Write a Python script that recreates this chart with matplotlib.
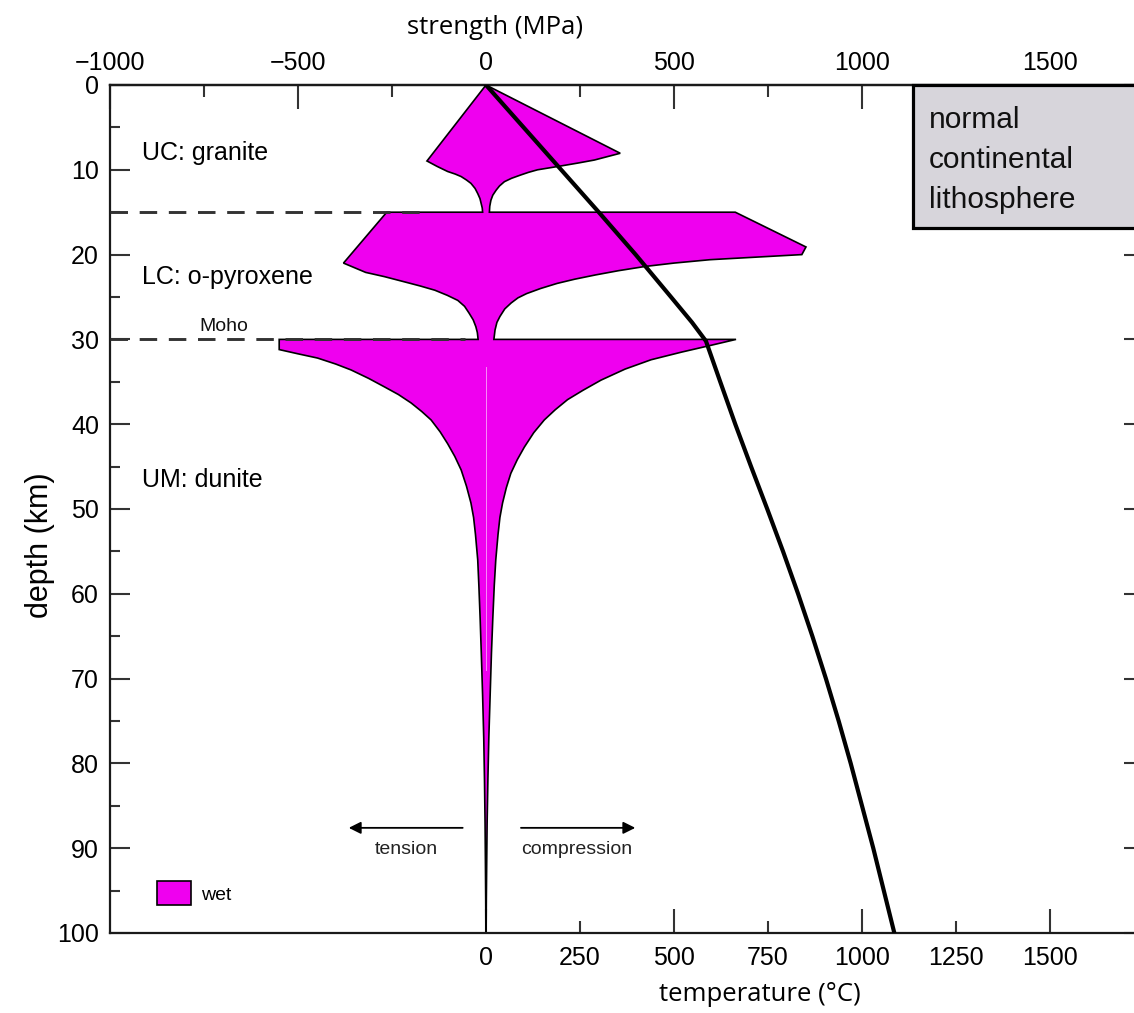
import numpy as np
import matplotlib.pyplot as plt
from matplotlib.patches import Rectangle

plt.rcParams['font.family'] = ['Liberation Sans', 'DejaVu Sans']

# strength envelope, compression side (depth km, MPa), read top to bottom
comp_depth = [0, 8.05, 8.85, 9.2, 9.55, 10.0, 10.3, 10.6, 11.0, 11.4, 11.9,
              12.4, 13.0, 13.6, 14.3, 15.0,
              15.0, 19.1, 20.0, 20.6, 21.0, 21.4, 21.9, 22.4, 22.9, 23.4, 24.0,
              24.6, 25.1, 25.7, 26.4, 27.3, 28.0, 28.9, 30.0,
              30.0, 30.7, 31.5, 32.4, 33.5, 34.8, 36.0, 37.1, 38.3, 39.5, 41.0,
              42.7, 44.2, 45.8, 47.5, 49.3, 51.0, 53.0, 56.0, 59.0, 63.0, 67.0,
              72.0, 77.0, 82.0, 87.0, 92.0, 96.0, 100.0]
comp_mpa = [0, 357, 288, 245, 199, 137, 113, 93, 68, 49, 36,
            27, 18, 13, 10, 9,
            663, 851, 840, 596, 500, 423, 352, 291, 236, 189, 145,
            108, 85, 67, 50, 37, 29, 24, 21,
            665, 598, 520, 439, 370, 306, 258, 217, 184, 155, 127,
            102, 83, 66, 54, 44, 37, 32, 26, 22, 18, 14.5,
            11, 7.5, 5, 3, 1.8, 0.9, 0.3]

# tension side
tens_depth = [0, 8.96, 9.6, 10.2, 10.5, 10.8, 11.2, 11.6, 12.2, 12.8, 13.4,
              13.95, 14.5, 15.0,
              15.0, 21.0, 22.1, 22.6, 23.2, 23.7, 24.2, 24.8, 25.4, 26.1, 26.9,
              27.7, 28.5, 29.2, 30.0,
              30.0, 31.2, 31.7, 32.2, 32.9, 33.6, 34.6, 35.6, 36.5, 37.5, 38.5,
              39.5, 40.9, 42.3, 43.8, 45.4, 47.3, 49.3, 51.0, 53.0, 56.0, 59.0,
              63.0, 67.0, 72.0, 77.0, 82.0, 87.0, 92.0, 96.0, 100.0]
tens_mpa = [0, -157, -130, -102, -82, -66, -52, -40, -29, -22, -16,
            -13, -10, -9,
            -264, -379, -320, -270, -218, -175, -136, -103, -75, -57, -45,
            -34, -27, -23, -21,
            -550, -550, -500, -448, -400, -359, -312, -270, -233, -199, -171,
            -146, -122, -102, -83, -66, -52, -40, -33, -28, -22, -19,
            -15.5, -12.5, -9, -6, -4, -2.5, -1.5, -0.8, -0.3]

# geotherm
geo_depth = [0, 5, 10, 15, 20, 25, 28, 30.2, 35, 40, 45, 50, 55, 60, 65,
             70, 75, 80, 85, 90, 95, 100]
geo_temp = [0, 100, 200, 300, 398, 492, 548, 585, 623, 663, 705, 748, 790,
            830, 868, 904, 938, 970, 1000, 1030, 1058, 1086]

# layer boundaries (depth, end of dashes in MPa)
boundary_depth = [15, 30]
boundary_end = [-157, -55]

strength_ticks = [-1000, -500, 0, 500, 1000, 1500]
strength_labels = ['\u22121000', '\u2212500', '0', '500', '1000', '1500']
strength_minor = [-750, -250, 250, 750, 1250]
temp_ticks = [0, 500, 1000, 1500]
temp_minor = [250, 750, 1250]
depth_ticks = list(range(0, 101, 10))
depth_minor = list(range(5, 100, 10))

magenta = '#EF00EF'
tick_col = '#333333'

fig = plt.figure(figsize=(11.34, 10.13), dpi=100)
ax = fig.add_axes([110 / 1134, 1 - 933 / 1013, 1034 / 1134, 848 / 1013])

xs = comp_mpa + tens_mpa[::-1]
ys = comp_depth + tens_depth[::-1]
env = ax.fill(xs, ys, facecolor=magenta, edgecolor='black', lw=1.2,
              zorder=2, label='wet')

# faint seam in the mantle part
ax.plot([0, 0], [33.2, 69], color='white', lw=0.7, alpha=0.55, zorder=2.1)

ax.plot(geo_temp, geo_depth, color='black', lw=3, zorder=3,
        solid_joinstyle='round', solid_capstyle='round')

for d, e in zip(boundary_depth, boundary_end):
    ax.plot([-1000, e], [d, d], color='#333333', lw=2.1, dashes=(6, 4),
            zorder=4)

ax.set_xlim(-1000, 1750)
ax.set_ylim(100, 0)

# info box top right
ax.add_patch(Rectangle((1135, 0), 800, 16.9, facecolor='#D7D5DB',
                       edgecolor='black', lw=2.3, zorder=5, clip_on=False))
ax.text(1178, 2.45, 'normal\ncontinental\nlithosphere', fontsize=21.5,
        va='top', ha='left', linespacing=1.56, zorder=6, color='#111111')

ax.text(-915, 8.0, 'UC: granite', fontsize=18, va='center', ha='left')
ax.text(-915, 22.6, 'LC: o-pyroxene', fontsize=18, va='center', ha='left')
ax.text(-915, 46.6, 'UM: dunite', fontsize=18, va='center', ha='left')
ax.text(-762, 29.5, 'Moho', fontsize=14, va='bottom', ha='left',
        color='#111111')

ax.annotate('', xy=(-365, 87.6), xytext=(-62, 87.6),
            arrowprops=dict(arrowstyle='-|>', color='black', lw=1.3,
                            mutation_scale=18, shrinkA=0, shrinkB=0))
ax.annotate('', xy=(397, 87.6), xytext=(93, 87.6),
            arrowprops=dict(arrowstyle='-|>', color='black', lw=1.3,
                            mutation_scale=18, shrinkA=0, shrinkB=0))
ax.text(-213, 90.1, 'tension', fontsize=14, ha='center', va='center',
        color='#222222')
ax.text(242, 90.1, 'compression', fontsize=14, ha='center', va='center',
        color='#222222')

ax.legend(handles=env, loc='lower left', bbox_to_anchor=(0.045, 0.033),
          frameon=False, fontsize=14, handlelength=1.75, handleheight=1.5,
          handletextpad=0.55, borderpad=0, borderaxespad=0)

for s in ax.spines.values():
    s.set_linewidth(1.6)
    s.set_color('#1a1a1a')

# depth axis
ax.set_yticks(depth_ticks)
ax.set_yticks(depth_minor, minor=True)
ax.tick_params(axis='y', which='both', direction='in', left=True, right=True,
               labelsize=18, pad=8, color=tick_col, width=1.5)
ax.tick_params(axis='y', which='major', length=14.5)
ax.tick_params(axis='y', which='minor', length=7.2)

# temperature axis (bottom)
ax.set_xticks(temp_ticks, labels=[str(t) for t in temp_ticks])
ax.set_xticks(temp_minor, labels=[str(t) for t in temp_minor], minor=True)
ax.tick_params(axis='x', which='both', direction='in', top=False,
               labelsize=18, pad=9, color=tick_col, width=1.5)
ax.tick_params(axis='x', which='major', length=17)
ax.tick_params(axis='x', which='minor', length=8.6)

# strength axis (top)
sec = ax.secondary_xaxis('top')
sec.set_xticks(strength_ticks, labels=strength_labels)
sec.set_xticks(strength_minor, minor=True)
sec.tick_params(axis='x', which='both', direction='in', labelsize=18,
                pad=7, color=tick_col, width=1.5)
sec.tick_params(axis='x', which='major', length=17)
sec.tick_params(axis='x', which='minor', length=8.6)
sec.spines['top'].set_linewidth(1.6)

fig.text(495 / 1134, 1 - 28 / 1013, 'strength (MPa)', fontsize=18.5,
         family=['Open Sans', 'DejaVu Sans'], ha='center', va='center')
fig.text(760 / 1134, 1 - 994 / 1013, 'temperature (\u00b0C)', fontsize=18.5,
         family=['Open Sans', 'DejaVu Sans'], ha='center', va='center')
fig.text(40 / 1134, 1 - 545 / 1013, 'depth (km)', fontsize=22,
         rotation=90, ha='center', va='center')

fig.savefig('out.png', dpi=100)
